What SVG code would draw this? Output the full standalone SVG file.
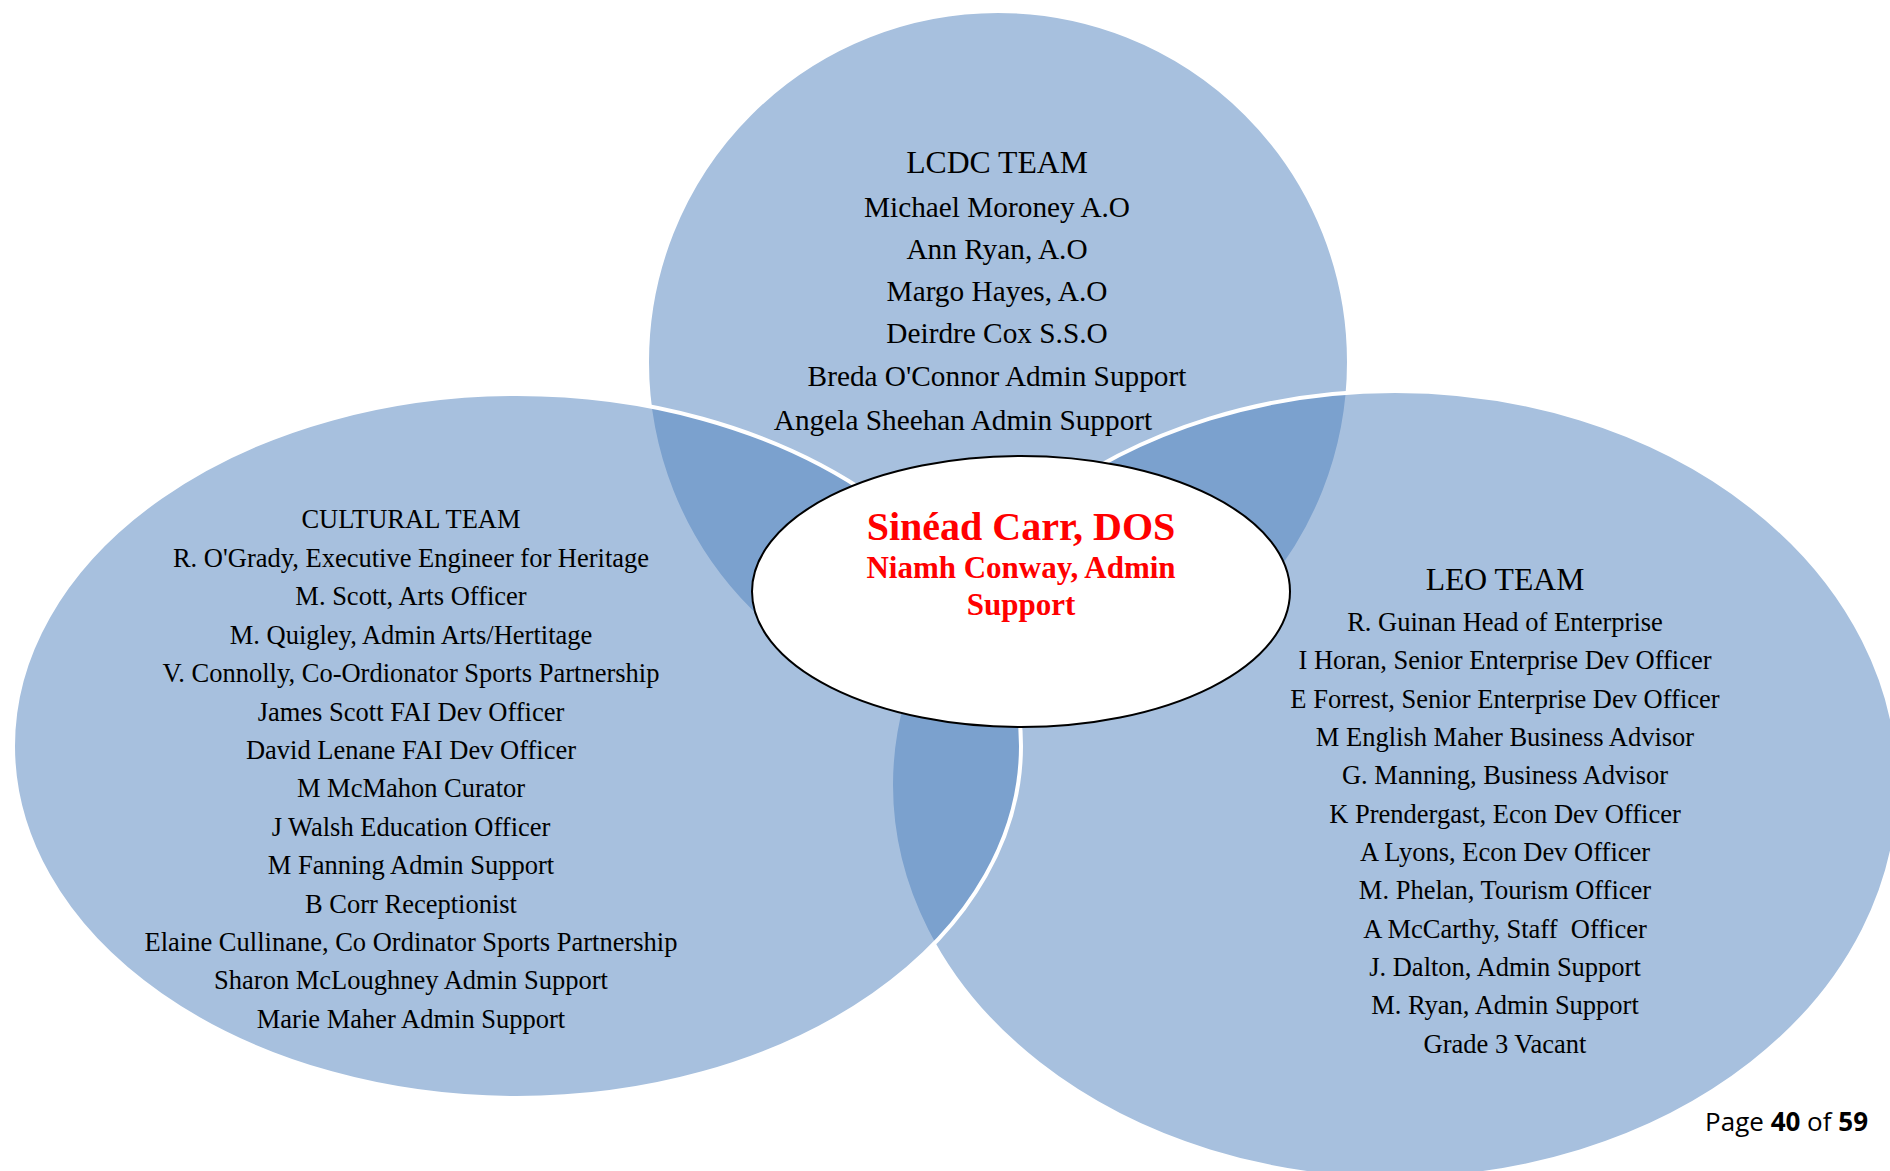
<svg xmlns="http://www.w3.org/2000/svg" width="1890" height="1171" viewBox="0 0 1890 1171">
<style>
.venn { fill:#4F81BD; fill-opacity:0.5; stroke:#FFFFFF; stroke-width:4; }
.core { fill:#FFFFFF; stroke:#000000; stroke-width:2; }
.t { font-family:"Liberation Serif","Times New Roman",serif; text-anchor:middle; fill:#000000; white-space:pre; }
.h32 { font-size:31.7px; }
.s29 { font-size:29.3px; }
.h27 { font-size:26.5px; }
.r { font-family:"Liberation Serif","Times New Roman",serif; text-anchor:middle; fill:#FF0000; font-weight:bold; }
.pg { font-family:"Open Sans","Liberation Sans",sans-serif; font-size:26px; text-anchor:end; fill:#000000; }
</style>
<rect x="0" y="0" width="1890" height="1171" fill="#FFFFFF"/>
<g id="lcdc-team">
  <ellipse class="venn" cx="998" cy="362" rx="351" ry="351"/>
  <text class="t h32" x="997" y="173">LCDC TEAM</text>
  <text class="t s29" x="997" y="217">Michael Moroney A.O</text>
  <text class="t s29" x="997" y="259">Ann Ryan, A.O</text>
  <text class="t s29" x="997" y="301">Margo Hayes, A.O</text>
  <text class="t s29" x="997" y="343">Deirdre Cox S.S.O</text>
  <text class="t s29" x="997" y="386">Breda O'Connor Admin Support</text>
  <text class="t s29" x="963" y="430">Angela Sheehan Admin Support</text>
</g>
<g id="leo-team">
  <ellipse class="venn" cx="1395" cy="785" rx="504" ry="394"/>
  <text class="t h32" x="1505" y="590">LEO TEAM</text>
  <text class="t h27" x="1505" y="631">R. Guinan Head of Enterprise</text>
  <text class="t h27" x="1505" y="669">I Horan, Senior Enterprise Dev Officer</text>
  <text class="t h27" x="1505" y="708">E Forrest, Senior Enterprise Dev Officer</text>
  <text class="t h27" x="1505" y="746">M English Maher Business Advisor</text>
  <text class="t h27" x="1505" y="784">G. Manning, Business Advisor</text>
  <text class="t h27" x="1505" y="823">K Prendergast, Econ Dev Officer</text>
  <text class="t h27" x="1505" y="861">A Lyons, Econ Dev Officer</text>
  <text class="t h27" x="1505" y="899">M. Phelan, Tourism Officer</text>
  <text class="t h27" x="1505" y="938">A McCarthy, Staff  Officer</text>
  <text class="t h27" x="1505" y="976">J. Dalton, Admin Support</text>
  <text class="t h27" x="1505" y="1014">M. Ryan, Admin Support</text>
  <text class="t h27" x="1505" y="1053">Grade 3 Vacant</text>
</g>
<g id="cultural-team">
  <ellipse class="venn" cx="517" cy="746" rx="504" ry="352"/>
  <text class="t h27" x="411" y="528">CULTURAL TEAM</text>
  <text class="t h27" x="411" y="567">R. O'Grady, Executive Engineer for Heritage</text>
  <text class="t h27" x="411" y="605">M. Scott, Arts Officer</text>
  <text class="t h27" x="411" y="644">M. Quigley, Admin Arts/Hertitage</text>
  <text class="t h27" x="411" y="682">V. Connolly, Co-Ordionator Sports Partnership</text>
  <text class="t h27" x="411" y="721">James Scott FAI Dev Officer</text>
  <text class="t h27" x="411" y="759">David Lenane FAI Dev Officer</text>
  <text class="t h27" x="411" y="797">M McMahon Curator</text>
  <text class="t h27" x="411" y="836">J Walsh Education Officer</text>
  <text class="t h27" x="411" y="874">M Fanning Admin Support</text>
  <text class="t h27" x="411" y="913">B Corr Receptionist</text>
  <text class="t h27" x="411" y="951">Elaine Cullinane, Co Ordinator Sports Partnership</text>
  <text class="t h27" x="411" y="989">Sharon McLoughney Admin Support</text>
  <text class="t h27" x="411" y="1028">Marie Maher Admin Support</text>
</g>
<g id="director">
  <ellipse class="core" cx="1021" cy="591.5" rx="269" ry="135.5"/>
  <text class="r" x="1021" y="540" font-size="40">Sinéad Carr, DOS</text>
  <text class="r" x="1021" y="578" font-size="31">Niamh Conway, Admin</text>
  <text class="r" x="1021" y="615" font-size="31">Support</text>
</g>
<g id="connectors"></g>
<g id="page-number">
  <text class="pg" x="1868" y="1131">Page <tspan font-weight="bold">40</tspan> of <tspan font-weight="bold">59</tspan></text>
</g>
</svg>
